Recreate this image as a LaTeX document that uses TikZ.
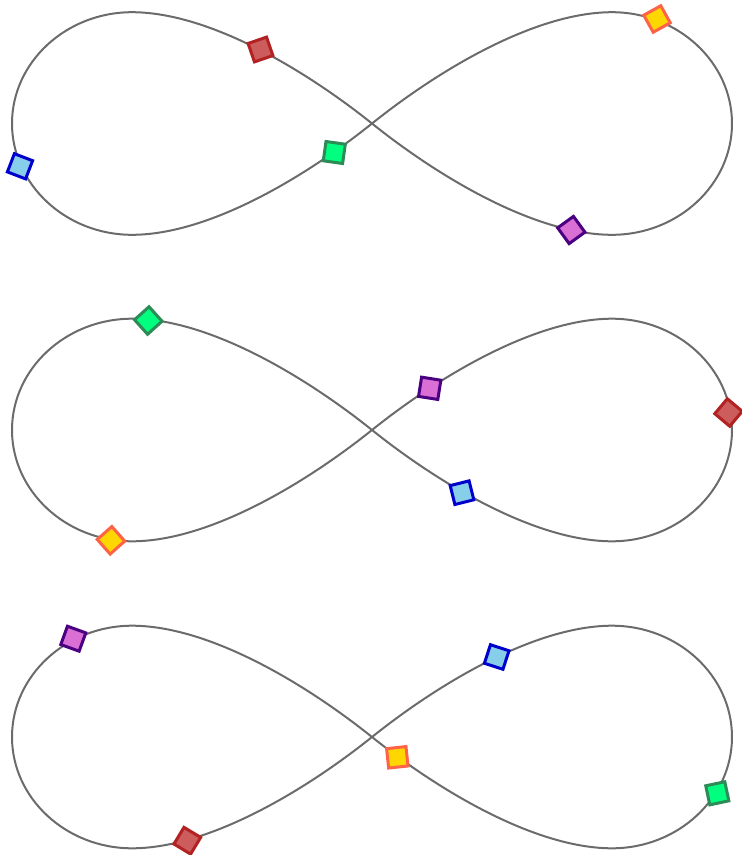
\documentclass[tikz,border=0pt]{standalone}
\usetikzlibrary{shapes.geometric}
\definecolor{curvegray}{RGB}{107,107,107}
\definecolor{redfill}{RGB}{205,92,92}\definecolor{reddraw}{RGB}{178,34,34}
\definecolor{bluefill}{RGB}{135,206,235}\definecolor{bluedraw}{RGB}{0,0,205}
\definecolor{greenfill}{RGB}{0,255,127}\definecolor{greendraw}{RGB}{46,139,87}
\definecolor{goldfill}{RGB}{255,215,0}\definecolor{golddraw}{RGB}{255,99,71}
\definecolor{purplefill}{RGB}{218,112,214}\definecolor{purpledraw}{RGB}{75,0,130}
\tikzset{
  track/.style={draw=curvegray, line width=2pt},
  mover/.style={rectangle, minimum size=19.5pt, inner sep=0pt, line width=3pt},
  redsq/.style={mover, fill=redfill, draw=reddraw},
  bluesq/.style={mover, fill=bluefill, draw=bluedraw},
  greensq/.style={mover, fill=greenfill, draw=greendraw},
  goldsq/.style={mover, fill=goldfill, draw=golddraw},
  purplesq/.style={mover, fill=purplefill, draw=purpledraw},
}
\newcommand\figeight[1]{%
  \begin{scope}[shift={(372,#1)}]
    \draw[track] (0,0) .. controls (-70,-56) and (-165,-111.3) .. (-240,-111.3)
      .. controls (-306,-111.3) and (-360,-61.2) .. (-360,0)
      .. controls (-360,61.2) and (-306,111.3) .. (-240,111.3)
      .. controls (-165,111.3) and (-70,56) .. (0,0)
      .. controls (70,-56) and (165,-111.3) .. (240,-111.3)
      .. controls (306,-111.3) and (360,-61.2) .. (360,0)
      .. controls (360,61.2) and (306,111.3) .. (240,111.3)
      .. controls (165,111.3) and (70,56) .. (0,0) -- cycle;
  \end{scope}}
\begin{document}
\begin{tikzpicture}[x=1pt,y=-1pt]
\useasboundingbox (0,0) rectangle (742,855);
\figeight{123.5}
\figeight{430}
\figeight{737}
% top
\node[redsq, rotate=19] (t-red) at (260.5,49.5) {};
\node[bluesq, rotate=-21] (t-blue) at (20,166.3) {};
\node[greensq, rotate=-8] (t-green) at (334.3,152.5) {};
\node[goldsq, rotate=29] (t-gold) at (657,19) {};
\node[purplesq, rotate=36] (t-purple) at (571.3,230) {};
% middle
\node[greensq, rotate=42] (m-green) at (148.3,320.5) {};
\node[goldsq, rotate=41.5] (m-gold) at (111,540.3) {};
\node[purplesq, rotate=-9] (m-purple) at (429.7,388.3) {};
\node[redsq, rotate=50] (m-red) at (728.5,412.5) {};
\node[bluesq, rotate=14] (m-blue) at (462,492.7) {};
% bottom
\node[purplesq, rotate=-20] (b-purple) at (73.3,638.7) {};
\node[redsq, rotate=-31] (b-red) at (187.3,840.7) {};
\node[bluesq, rotate=-18] (b-blue) at (496.7,657) {};
\node[goldsq, rotate=6] (b-gold) at (397.3,757.3) {};
\node[greensq, rotate=12] (b-green) at (717.3,793.3) {};
\end{tikzpicture}
\end{document}
